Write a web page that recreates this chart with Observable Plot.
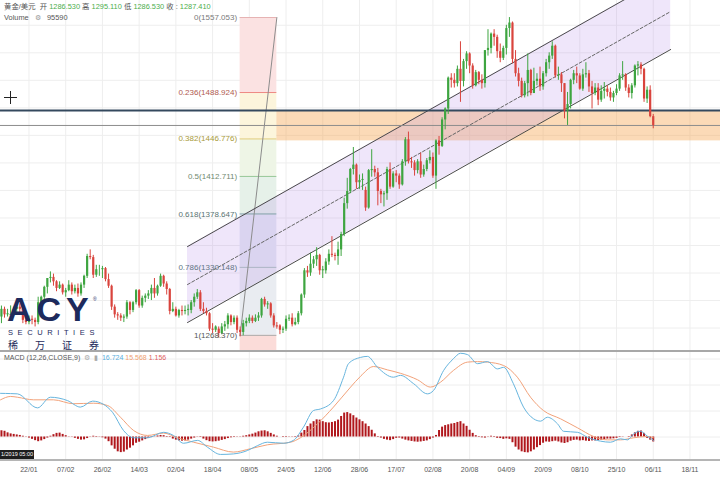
<!DOCTYPE html>
<html><head><meta charset="utf-8">
<script src="https://cdn.jsdelivr.net/npm/d3@7"></script>
<script src="https://cdn.jsdelivr.net/npm/@observablehq/plot@0.6"></script>
<style>
html,body{margin:0;padding:0;background:#fff}
#wrap{position:relative;width:720px;height:479px;overflow:hidden;background:#fff;font-family:"Liberation Sans","Noto Sans CJK SC",sans-serif}
#wrap svg{position:absolute;left:0}
.t{position:absolute;white-space:nowrap;line-height:1}
.g{color:#4cae4c}
.k{color:#555}
.sep{position:absolute;left:0;width:720px}
</style></head><body>
<div id="wrap"></div>
<script>
// ---------- data ----------
const firstIndex = -9; // bar index of the first candle
const open = [
1285,1292,1287,1286.53,1288,1292,1294,1292,1282,1280,
1283,1282,1280,1298,1303,1312,1320,1321,1317,1311,
1314,1307,1309,1314,1308,1311,1306,1314,1322,1340,
1339,1323,1328,1328,1329,1319,1313,1294,1287,1286,
1284,1285,1298,1291,1298,1309,1295,1302,1304,1306,
1311,1306,1313,1322,1315,1310,1290,1292,1286,1291,
1290,1291,1291,1298,1303,1307,1292,1290,1288,1274,
1273,1274,1270,1276,1278,1286,1280,1284,1273,1271,
1279,1281,1284,1281,1284,1286,1301,1296,1297,1286,
1277,1277,1273,1274,1283,1284,1278,1280,1288,1305,
1327,1325,1333,1337,1341,1327,1327,1335,1342,1341,
1340,1346,1360,1388,1399,1419,1423,1407,1409,1400,
1384,1418,1419,1416,1399,1396,1397,1419,1403,1415,
1413,1405,1426,1446,1426,1425,1418,1426,1414,1419,
1427,1430,1413,1445,1440,1464,1474,1502,1500,1497,
1510,1499,1517,1524,1513,1495,1507,1500,1497,1527,
1529,1542,1539,1526,1520,1529,1547,1552,1519,1506,
1499,1486,1497,1509,1488,1499,1501,1494,1506,1516,
1522,1531,1504,1505,1497,1472,1478,1500,1506,1504,
1492,1505,1506,1494,1488,1493,1482,1490,1492,1489,
1484,1488,1492,1504,1505,1493,1488,1495,1513,1514,
1510,1483,1491,1467];
const high = [
1295,1294,1292,1295.11,1294,1297,1297,1293,1284,1286,
1286,1284,1303,1304,1313,1320,1326,1324,1318,1317,
1315,1311,1318,1316,1314,1315,1316,1323,1342,1346,
1341,1332,1332,1331,1330,1324,1314,1296,1289,1288,
1287,1300,1299,1299,1310,1310,1304,1306,1309,1314,
1320,1314,1324,1323,1317,1311,1298,1294,1292,1295,
1295,1296,1300,1306,1310,1309,1298,1293,1289,1279,
1277,1276,1279,1281,1288,1287,1286,1286,1276,1282,
1284,1287,1286,1287,1289,1302,1303,1299,1298,1288,
1280,1278,1276,1286,1287,1288,1284,1290,1306,1329,
1331,1343,1340,1348,1342,1331,1338,1346,1358,1343,
1353,1362,1393,1411,1420,1439,1424,1414,1415,1403,
1419,1437,1422,1420,1401,1399,1421,1425,1417,1418,
1415,1428,1448,1453,1430,1427,1428,1434,1423,1429,
1436,1434,1446,1449,1466,1475,1503,1506,1506,1513,
1535,1519,1526,1525,1515,1509,1508,1505,1527,1546,
1543,1546,1541,1533,1531,1550,1557,1553,1527,1511,
1502,1499,1524,1510,1511,1506,1512,1508,1519,1525,
1535,1532,1512,1507,1497,1489,1501,1509,1512,1506,
1510,1516,1509,1499,1497,1497,1495,1498,1495,1493,
1490,1496,1506,1517,1506,1496,1497,1514,1517,1516,
1511,1494,1495,1469];
const low = [
1279,1284,1285,1286.53,1286,1288,1287,1279,1278,1278,
1278,1276,1278,1295,1301,1306,1316,1313,1308,1310,
1305,1303,1308,1305,1306,1303,1304,1311,1320,1337,
1320,1321,1322,1320,1317,1311,1291,1284,1282,1281,
1280,1283,1287,1289,1296,1293,1293,1298,1301,1300,
1302,1304,1312,1312,1305,1287,1289,1285,1284,1286,
1287,1286,1288,1294,1301,1290,1288,1286,1272,1270,
1271,1266,1269,1272,1274,1277,1278,1270,1267,1268,
1276,1279,1279,1280,1281,1284,1294,1292,1284,1275,
1274,1269,1270,1272,1281,1276,1277,1278,1286,1302,
1321,1322,1329,1331,1323,1320,1324,1332,1339,1336,
1332,1340,1358,1383,1397,1414,1401,1401,1400,1381,
1383,1412,1412,1386,1388,1385,1391,1401,1402,1407,
1401,1404,1422,1424,1420,1413,1415,1411,1412,1417,
1424,1411,1401,1432,1439,1455,1469,1493,1493,1494,
1480,1494,1510,1506,1492,1494,1496,1492,1493,1522,
1524,1531,1520,1516,1518,1523,1539,1515,1503,1494,
1484,1484,1485,1486,1488,1495,1490,1491,1503,1510,
1519,1502,1500,1489,1465,1459,1474,1496,1497,1491,
1490,1502,1489,1474,1486,1477,1480,1483,1485,1481,
1480,1486,1490,1500,1490,1484,1483,1493,1504,1505,
1480,1479,1466,1456];
const close = [
1292,1287,1288,1287.41,1292,1294,1292,1282,1280,1283,
1282,1280,1298,1303,1312,1320,1321,1317,1311,1314,
1307,1309,1314,1308,1311,1306,1314,1322,1340,1339,
1323,1328,1328,1329,1319,1313,1294,1287,1286,1284,
1285,1298,1291,1298,1309,1295,1302,1304,1306,1311,
1306,1313,1322,1315,1310,1290,1292,1286,1291,1290,
1291,1292,1298,1303,1307,1292,1290,1288,1274,1273,
1276,1270,1276,1278,1286,1280,1284,1273,1271,1279,
1281,1284,1281,1284,1286,1301,1296,1297,1286,1277,
1276,1273,1274,1283,1284,1278,1280,1288,1305,1327,
1325,1333,1337,1341,1327,1328,1335,1342,1341,1340,
1346,1360,1388,1399,1419,1423,1407,1409,1410,1384,
1418,1419,1416,1399,1396,1397,1419,1403,1415,1413,
1405,1426,1446,1426,1425,1418,1426,1414,1419,1427,
1430,1413,1445,1440,1464,1474,1502,1500,1497,1510,
1499,1517,1524,1513,1495,1507,1500,1497,1527,1529,
1542,1539,1526,1520,1529,1547,1552,1519,1506,1499,
1486,1497,1509,1488,1499,1501,1494,1506,1516,1522,
1531,1504,1505,1497,1472,1478,1500,1506,1504,1492,
1505,1506,1494,1488,1493,1482,1490,1492,1489,1484,
1488,1492,1504,1505,1493,1488,1495,1513,1514,1510,
1483,1491,1467,1459];

// MACD histogram, one value per bar
const histogram = [
2.4,2.2,1.6,1.2,1.0,0.8,0.6,0.3,0.1,-0.4,
-0.9,-1.4,-1.8,-1.5,-1.0,-0.4,0.3,0.9,1.4,1.5,
1.0,0.5,0.1,-0.1,-0.5,-0.9,-1.2,-1.1,-0.6,0.1,
0.3,0.2,0.1,-0.3,-0.8,-1.8,-3.4,-4.7,-5.7,-6.0,
-5.8,-5.0,-4.3,-3.4,-2.4,-2.0,-1.5,-1.0,-0.6,-0.2,
0.1,0.4,0.6,0.5,0.2,-0.2,-0.8,-1.2,-1.5,-1.6,
-1.5,-1.2,-0.8,-0.4,-0.1,-0.2,-0.8,-1.4,-1.8,-1.9,
-1.8,-1.6,-1.3,-1.0,-0.6,-0.3,-0.2,-0.1,0.1,0.3,
0.5,0.8,1.1,1.5,2.0,2.3,2.4,2.0,1.4,0.8,
0.3,0.0,-0.2,-0.2,-0.1,0.1,0.2,0.4,1.5,2.5,
4.0,5.0,5.9,6.6,6.5,5.9,5.5,5.4,5.6,5.9,
6.5,7.9,9.2,9.4,8.9,8.2,7.3,6.6,5.9,5.0,
4.0,2.6,1.2,0.2,-0.4,-0.9,-1.2,-1.4,-1.0,-0.5,
-0.4,-0.8,-1.2,-1.5,-1.7,-1.9,-2.0,-1.9,-1.7,-1.5,
-1.0,-0.4,0.6,2.5,3.8,4.4,4.7,5.0,5.2,5.6,
5.9,5.0,4.1,2.6,1.4,0.5,0.2,-0.3,-0.4,0.1,
0.3,0.2,-0.5,-0.6,-0.9,-0.7,-0.9,-2.2,-3.9,-5.0,
-5.7,-6.0,-6.1,-5.7,-5.0,-4.1,-3.3,-2.4,-1.9,-2.0,
-1.8,-1.6,-1.9,-2.3,-2.5,-2.2,-1.6,-1.3,-1.2,-1.5,
-1.4,-1.6,-1.7,-1.5,-1.5,-1.4,-1.2,-1.0,-0.8,-0.8,
-0.7,-0.5,-0.2,0.1,0.0,-0.2,0.8,1.6,2.2,2.3,
1.4,-0.5,-1.2,-1.9];

// MACD line and signal line, read at bar positions
const macdIdx = [-9.3,-6,-3.8,2.8,7,12.6,16.8,20.8,24.3,27.3,30.9,34.2,38.7,44,47.2,50.5,55.1,58.3,62.6,66.8,71.4,74.7,77.9,83.2,86.4,89.7,93,95.3,99.5,102.8,104.4,108.3,110.6,113.9,119.1,121.4,125.7,130.2,132.2,135.5,138.7,141,143.3,146.6,149.8,153.1,155.1,158.3,161.6,164.9,167.2,169.4,172.7,174.7,179.3,182.5,186.8,190,193.3,195.6,197.6,199.8,202.1,204.1];
const macdVal = [16.8,16.7,16.6,11.2,15.3,14.0,11.5,13.8,12.6,9.5,2.5,-0.3,-0.3,1.8,0.6,-2.4,-1.3,-3.9,-6.7,-6.5,-5.2,-3.3,-2.0,-2.4,-1.3,3.8,10.2,10.8,14.0,23.0,28.2,30.6,31.0,26.8,23.0,23.7,20.5,16.6,17.9,25.6,30.1,32.2,31.7,28.2,29.0,26.2,26.8,20.5,11.5,7.0,6.1,7.6,5.1,2.2,1.8,-0.1,-1.6,-2.0,-0.7,-1.1,1.2,2.2,0.3,-1.3];
const signalIdx = [-9.3,-6,-3.8,1.5,8,14.5,21.1,25.7,29.9,34.2,38.7,44,48.5,53.8,60.3,66.8,72.4,77.9,85.5,88.7,94.3,99.5,105.1,108.3,112.6,117.2,121.4,127,131.2,134.5,138.7,143.3,146.6,149.8,155.1,159.6,163.9,168.1,173.7,179.3,184.5,189,193.3,197.6,202.1,204.1];
const signalVal = [14.3,15.6,15.3,14.3,14.3,12.8,13.0,12.1,7.6,2.5,0.6,1.5,-0.3,-2.0,-3.9,-5.8,-4.5,-3.0,-2.0,-0.3,5.1,11.5,19.2,23.3,27.1,25.8,24.5,22.0,19.2,21.1,25.6,28.8,29.0,28.8,27.5,23.0,15.3,10.2,7.0,3.5,0.2,-1.1,-1.1,-0.3,0.2,-0.3];

// time axis
const tickIdx = [0,12,24,36,48,60,72,84,96,108,120,132,144,156,168,180,192,204,216];
const tickLabels = ["22/01","07/02","26/02","14/03","02/04","18/04","08/05","24/05","12/06","28/06","17/07","02/08","20/08","04/09","20/09","08/10","25/10","06/11","18/11"];
const priceGrid = [1275,1300,1325,1350,1375,1400,1425,1450,1475,1500,1525,1550];
const macdGrid = [0,10,20,30];

// Fibonacci retracement drawing
const fibRatios = ["0","0.236","0.382","0.5","0.618","0.786","1"];
const fibPrices = [1557.053,1488.924,1446.776,1412.711,1378.647,1330.148,1268.370];
const fibStartIdx = 69.0, fibEndIdx = 81.0;

// parallel channel drawing (anchor bars and lower-line prices)
const channelIdx = [51.8, 209.7];
const channelLower = [1280.0, 1528.0];
const channelWidth = 69;

// horizontal drawings
const supportLine = 1472.5;
const thinLine = 1459.0;
const zone = [1445.0, 1472.5];

// header values
const pair = "黄金/美元";
const ohlcHead = {o:"1286.530", h:"1295.110", l:"1286.530", c:"1287.410"};
const volumeHead = "95590";
const macdHead = ["16.724","15.568","1.156"];
const crossTime = "1/2019 05:00";

// ---------- styles ----------
const UP = "#3ea540", DOWN = "#d9443d";
const fibFills = ["#fbe2e2","#fcf5dc","#eef5e6","#e6f1e9","#e4e8f3","#e9ecf1","#fbdcd9"];
const fibLineColors = ["#e6b3b3","#ee8a84","#e6cc74","#98c898","#7fa3a3","#a9b4c2","#aaaaaa"];
const fibLabelColors = ["#7a7a7a","#b05a50","#a89a3a","#708a70","#587272","#627585","#555"];

// ---------- build ----------
const bars = open.map((o,k)=>({i:firstIndex+k, o, h:high[k], l:low[k], c:close[k]}));
const upBars = bars.filter(d=>d.c>=d.o), downBars = bars.filter(d=>d.c<d.o);
const XD = [-9.31, 225.98];
const YD = [1252.8, 1572.5];

const fibBands = fibPrices.map((p,k)=>({
  hi:p, lo: k<fibPrices.length-1 ? fibPrices[k+1] : YD[0], fill: fibFills[k]}));
const fibLevels = fibPrices.map((p,k)=>({p, line:fibLineColors[k], lab:fibLabelColors[k],
  text:`${fibRatios[k]}(${p.toFixed(3)})`}));
const channel = channelIdx.map((i,k)=>({i, lo:channelLower[k], mid:channelLower[k]+channelWidth/2, hi:channelLower[k]+channelWidth}));

const main = Plot.plot({
  width:720, height:352, margin:0,
  x:{domain:XD, axis:null}, y:{domain:YD, axis:null},
  color:{type:"identity"},
  style:{background:"transparent", overflow:"hidden"},
  marks:[
    Plot.ruleY(priceGrid, {stroke:"#eeeeee"}),
    Plot.ruleX(tickIdx, {stroke:"#eeeeee"}),
    Plot.rect(fibBands, {x1:fibStartIdx, x2:fibEndIdx, y1:"lo", y2:"hi", fill:"fill"}),
    Plot.rect([{a:zone[0], b:zone[1]}], {x1:fibEndIdx, x2:XD[1], y1:"a", y2:"b", fill:"#f6a24c", fillOpacity:0.4}),
    Plot.areaY(channel, {x:"i", y1:"lo", y2:"hi", fill:"#b48ce6", fillOpacity:0.22, clip:true}),
    Plot.ruleY(fibLevels, {y:"p", x1:fibStartIdx, x2:fibEndIdx, stroke:"line", strokeWidth:1}),
    Plot.line([[fibStartIdx, fibPrices[6]],[fibEndIdx, fibPrices[0]]], {stroke:"#8c8c8c", strokeWidth:1}),
    Plot.line(channel, {x:"i", y:"lo", stroke:"#4a4a4a", strokeWidth:1, clip:true}),
    Plot.line(channel, {x:"i", y:"hi", stroke:"#4a4a4a", strokeWidth:1, clip:true}),
    Plot.line(channel, {x:"i", y:"mid", stroke:"#666", strokeWidth:1, strokeDasharray:"3,2", clip:true}),
    Plot.ruleY([thinLine], {stroke:"#8d8d8d", strokeWidth:1}),
    Plot.ruleY([supportLine], {stroke:"#34495e", strokeWidth:2}),
    Plot.ruleX(upBars, {x:"i", y1:"l", y2:"h", stroke:UP, strokeWidth:1}),
    Plot.ruleX(downBars, {x:"i", y1:"l", y2:"h", stroke:DOWN, strokeWidth:1}),
    Plot.ruleX(upBars, {x:"i", y1:"o", y2:"c", stroke:UP, strokeWidth:2.2}),
    Plot.ruleX(downBars, {x:"i", y1:"o", y2:"c", stroke:DOWN, strokeWidth:2.2}),
    Plot.text(fibLevels, {x:fibStartIdx, y:"p", text:"text", fill:"lab", textAnchor:"end", dx:-3,
      fontSize:8, fontFamily:"Liberation Sans, sans-serif"})
  ]
});

const hist = histogram.map((h,k)=>({i:firstIndex+k, h}));
const macdLine = macdIdx.map((i,k)=>({i, v:macdVal[k]}));
const sigLine = signalIdx.map((i,k)=>({i, v:signalVal[k]}));
const macd = Plot.plot({
  width:720, height:107, margin:0,
  x:{domain:XD, axis:null}, y:{domain:[-8.65, 32.5], axis:null},
  style:{background:"transparent", overflow:"hidden"},
  marks:[
    Plot.ruleY(macdGrid, {stroke:"#eeeeee"}),
    Plot.ruleX(tickIdx, {stroke:"#eeeeee"}),
    Plot.ruleX(hist, {x:"i", y1:0, y2:"h", stroke:"#b0171c", strokeWidth:2}),
    Plot.line(sigLine, {x:"i", y:"v", stroke:"#f2a27a", strokeWidth:1, curve:"monotone-x"}),
    Plot.line(macdLine, {x:"i", y:"v", stroke:"#67b5de", strokeWidth:1, curve:"monotone-x"})
  ]
});

const axis = Plot.plot({
  width:720, height:19, margin:0,
  x:{domain:XD, axis:null}, y:{domain:[0,1], axis:null},
  style:{background:"transparent"},
  marks:[
    Plot.text(tickLabels, {x:(d,k)=>tickIdx[k], frameAnchor:"middle", fill:"#555", fontSize:7,
      fontFamily:"Liberation Sans, sans-serif"})
  ]
});

const wrap = document.getElementById("wrap");
main.style.top = "0px"; macd.style.top = "352px"; axis.style.top = "460px";
wrap.append(main, macd, axis);

function addDiv(html, css, cls){
  const d = document.createElement("div");
  d.className = cls || "t"; d.innerHTML = html; d.style.cssText = css; wrap.append(d); return d;
}
// separators
addDiv("", "top:350px;height:2px;background:#a8a8a8", "sep");
addDiv("", "top:459px;height:1.5px;background:#b5b5b5", "sep");
// header
addDiv(`<span class="k">${pair}</span>&nbsp; <span class="k">开</span> <span class="g">${ohlcHead.o}</span> <span class="k">高</span> <span class="g">${ohlcHead.h}</span> <span class="k">低</span> <span class="g">${ohlcHead.l}</span> <span class="k">收 :</span> <span class="g">${ohlcHead.c}</span>`,
  "left:4px;top:3px;font-size:7.4px;");
addDiv(`<span class="k">Volume</span>&nbsp;&nbsp; <span style="color:#999">⚙</span>&nbsp;&nbsp; <span class="k">${volumeHead}</span>`,
  "left:4px;top:14px;font-size:7.4px;");
// MACD header
addDiv(`<span class="k">MACD (12,26,CLOSE,9)</span>&nbsp; <span style="color:#aaa">⚙</span>&nbsp; <span style="color:#aaa">▮</span>&nbsp; <span style="color:#5aaede">${macdHead[0]}</span> <span style="color:#f0a070">${macdHead[1]}</span> <span style="color:#e06060">${macdHead[2]}</span>`,
  "left:4px;top:354px;font-size:7px;");
// crosshair time box
addDiv(crossTime, "left:0;top:450px;width:34px;height:9px;background:#1e1e1e;color:#fff;font-size:5.5px;line-height:9px;text-align:center;overflow:hidden;");
// cursor
addDiv("", "left:4px;top:96.5px;width:13px;height:1px;background:#222", "t");
addDiv("", "left:10px;top:91px;width:1px;height:13px;background:#222", "t");
// logo (text boxes stacked without overlap)
addDiv(`ACY`,
  "left:7px;top:289.5px;line-height:normal;font-size:34px;font-weight:700;color:#1d2a5c;letter-spacing:5px;font-family:'Liberation Sans',sans-serif;");
addDiv(`®`, "left:93px;top:296px;line-height:normal;font-size:5px;color:#1d2a5c;");
addDiv("SECURITIES", "left:8px;top:328.2px;line-height:normal;font-size:7.5px;color:#1d2a5c;letter-spacing:4.6px;font-family:'Liberation Sans',sans-serif;");
addDiv("稀万证券", "left:8px;top:336.8px;line-height:normal;font-size:10px;color:#1d2a5c;letter-spacing:17px;font-family:'Noto Sans CJK SC',sans-serif;");
</script></body></html>
